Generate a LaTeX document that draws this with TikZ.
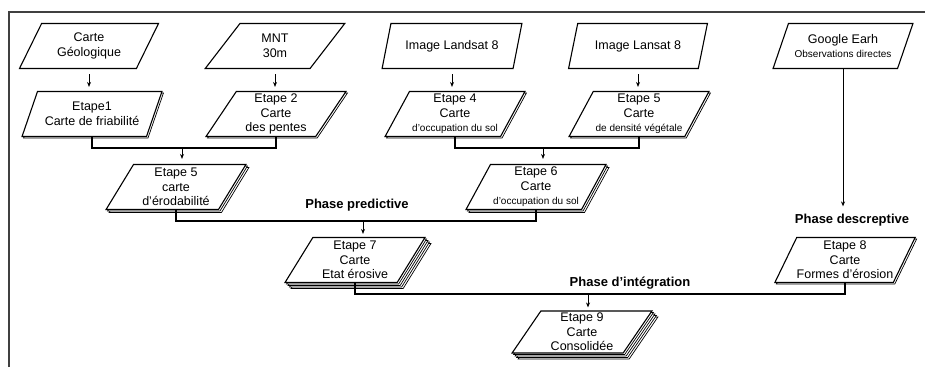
\documentclass[tikz,border=0pt]{standalone}
\usepackage{fontspec}
\setmainfont{Liberation Sans}
\usepackage{tikz}
\usetikzlibrary{arrows.meta,positioning,calc,shapes.geometric,shadows}
\usepackage{xcolor}

\begin{document}
\begin{tikzpicture}[x=1pt,y=-1pt,
    doc/.style={trapezium,trapezium left angle=60,trapezium right angle=120,
        trapezium stretches=true,draw,fill=white,line width=1.1pt,
        minimum width=140pt,minimum height=45pt,inner sep=0pt,align=center,
        font=\fontsize{12.5}{14.5}\selectfont},
    sheet/.style={general shadow={shadow xshift=#1,shadow yshift=-#1,
        fill=white,draw,line width=0.7pt}},
    docone/.style={doc,sheet=1.5pt},
    doctwo/.style={doc,sheet=3pt,sheet=1.5pt},
    docfour/.style={doc,sheet=6pt,sheet=4.5pt,sheet=3pt,sheet=1.5pt},
    phase/.style={font=\fontsize{13}{15}\selectfont\bfseries},
    arr/.style={-{Stealth[length=5pt,width=4pt]},line width=1pt},
    link/.style={line width=1.1pt}]
    \useasboundingbox (0,0) rectangle (925,367);
    \draw[black!75,line width=1.2pt] (9,367) -- (9,12) -- (925,12);

    % donnees de base
    \node[doc] (geo) at (89,46) {Carte\\Géologique};
    \node[doc] (mnt) at (275,46) {MNT\\30m};
    \node[doc] (lsa) at (452,46) {Image Landsat 8};
    \node[doc] (lsb) at (638,46) {Image Lansat 8};
    \node[doc] (gge) at (843,46) {Google Earh\\{\fontsize{10}{12}\selectfont Observations directes}};

    \node[docone] (e1) at (92,114) {Etape1\\Carte de friabilité};
    \node[docone] (e2) at (276,114) {Etape 2\\Carte\\des pentes};
    \node[docone] (e4) at (455,114) {Etape 4\\Carte\\{\fontsize{10}{12}\selectfont d'occupation du sol}};
    \node[docone] (e5b) at (639,114) {Etape 5\\Carte\\{\fontsize{10}{12}\selectfont de densité végétale}};

    \node[doctwo] (e5) at (176,187) {Etape 5\\carte\\d'érodabilité};
    \node[doctwo] (e6) at (536,187) {Etape 6\\Carte\\{\fontsize{10}{12}\selectfont d'occupation du sol}};

    \node[docfour] (e7) at (355,260) {Etape 7\\Carte\\Etat érosive};
    \node[docone] (e8) at (845,260) {Etape 8\\Carte\\Formes d'érosion};
    \node[docfour,minimum height=42pt] (e9) at (582,332) {Etape 9\\Carte\\Consolidée};

    \node[phase] (ppre) at (357,205) {Phase predictive};
    \node[phase] (pdes) at (852,220) {Phase descreptive};
    \node[phase] (pint) at (630,283) {Phase d'intégration};

    \foreach \a/\b in {geo/e1,mnt/e2,lsa/e4,lsb/e5b}
        \draw[arr,shorten <=5pt,shorten >=4pt] (\a.south) -- (\a.south |- \b.north);

    \coordinate (j1) at (182,148);
    \coordinate (j2) at (543,148);
    \coordinate (j3) at (363,221);
    \coordinate (j4) at (588,294);
    \draw[link] (e1.south) |- (j1) -| (e2.south);
    \draw[link] (e4.south) |- (j2) -| (e5b.south);
    \draw[link] (e5.south) |- (j3) -| (e6.south);
    \draw[link] (e7.south) |- (j4) -| (e8.south);
    \draw[arr,shorten >=5pt] (j1) -- (j1 |- e5.north);
    \draw[arr,shorten >=5pt] (j2) -- (j2 |- e6.north);
    \draw[arr,shorten >=3pt] (j3) -- (j3 |- e7.north);
    \draw[arr,shorten >=3pt] (j4) -- (j4 |- e9.north);
    \draw[arr,shorten >=4pt] (gge.south) -- (gge.south |- pdes.north);
\end{tikzpicture}
\end{document}
